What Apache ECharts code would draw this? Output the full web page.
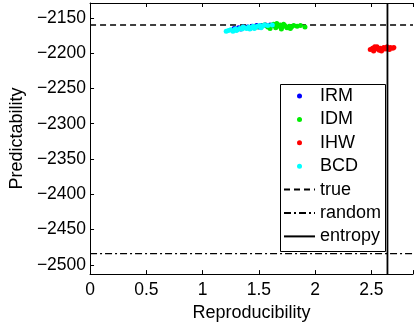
<!DOCTYPE html>
<html>
<head>
<meta charset="utf-8">
<script src="https://cdn.jsdelivr.net/npm/echarts@6/dist/echarts.min.js"></script>
<style>
html,body{margin:0;padding:0;background:#fff;}
#c{width:416px;height:327px;}
</style>
</head>
<body>
<div id="c"></div>
<script>
const seriesNames = ['IRM', 'IDM', 'IHW', 'BCD'];
const irm = [[1.28,-2165],[1.32,-2164],[1.36,-2163],[1.40,-2163],[1.44,-2162],[1.48,-2161],[1.52,-2161],[1.56,-2160],[1.60,-2160],[1.34,-2166],[1.42,-2165],[1.50,-2163],[1.58,-2162],[1.63,-2161]];
const idm = [[1.48,-2163],[1.52,-2162],[1.55,-2160],[1.58,-2163],[1.61,-2161],[1.63,-2159],[1.65,-2164],[1.67,-2162],[1.69,-2160],[1.71,-2163],[1.73,-2161],[1.75,-2164],[1.77,-2162],[1.79,-2163],[1.81,-2161],[1.84,-2162],[1.87,-2161],[1.91,-2163],[1.66,-2158],[1.72,-2159],[1.60,-2165],[1.70,-2166],[1.78,-2165]];
const ihw = [[2.49,-2195],[2.51,-2193],[2.52,-2197],[2.54,-2194],[2.55,-2191],[2.57,-2196],[2.58,-2193],[2.60,-2195],[2.61,-2192],[2.63,-2194],[2.64,-2191],[2.66,-2195],[2.67,-2192],[2.69,-2193],[2.70,-2192],[2.53,-2191],[2.59,-2197]];
const bcd = [[1.21,-2169],[1.23,-2168],[1.25,-2167],[1.27,-2169],[1.29,-2166],[1.31,-2167],[1.33,-2165],[1.35,-2166],[1.37,-2164],[1.39,-2165],[1.41,-2163],[1.43,-2164],[1.45,-2162],[1.47,-2163],[1.49,-2162],[1.51,-2161],[1.53,-2162],[1.55,-2160],[1.58,-2161],[1.62,-2160],[1.30,-2168],[1.36,-2163],[1.42,-2166],[1.46,-2165],[1.52,-2164]];
const trueValue = -2160;
const randomValue = -2484;
const entropyValue = 2.643;
const xRange = [0, 2.87];
const yRange = [-2513, -2129];
const xTickStep = 0.5;
const yTickStep = 50;
const seriesColors = ['#0000ff', '#00ee00', '#ff0000', '#00ffff'];

const font = 'Liberation Sans, Arial, Helvetica, sans-serif';
const chart = echarts.init(document.getElementById('c'), null, {renderer: 'canvas'});

const scatterData = [irm, idm, ihw, bcd];
const series = seriesNames.map((n, i) => ({
  name: n, type: 'scatter', data: scatterData[i], symbol: 'circle', symbolSize: 5,
  itemStyle: {color: seriesColors[i], opacity: 1}, z: 3
}));
series.push({
  name: 'true', type: 'line', data: [[xRange[0], trueValue], [xRange[1], trueValue]],
  symbol: 'none', itemStyle: {color: '#000'}, lineStyle: {color: '#000', width: 1.5, type: [6, 4]}, z: 2
});
series.push({
  name: 'random', type: 'line', data: [[xRange[0], randomValue], [xRange[1], randomValue]],
  symbol: 'none', itemStyle: {color: '#000'}, lineStyle: {color: '#000', width: 1.2, type: [7, 3, 2, 3]}, z: 2
});
series.push({
  name: 'entropy', type: 'line', data: [[entropyValue, yRange[0]], [entropyValue, yRange[1]]],
  symbol: 'none', itemStyle: {color: '#000'}, lineStyle: {color: '#000', width: 1.8, type: 'solid'}, z: 4
});

const legendData = seriesNames.map(n => ({name: n, icon: 'circle'}))
  .concat(['true', 'random', 'entropy'].map(n => ({
    name: n,
    itemStyle: {color: 'rgba(0,0,0,0)', borderWidth: 0, opacity: 0}
  })));

const option = {
  animation: false,
  backgroundColor: '#fff',
  grid: {left: 85, top: 3, right: 0, bottom: 49, containLabel: false},
  graphic: [{
    type: 'rect', left: 278, top: 82, z: 10, silent: true,
    shape: {x: 0, y: 0, width: 105, height: 167},
    style: {fill: 'none', stroke: '#000', lineWidth: 1}
  }],
  legend: {
    orient: 'vertical', left: 278, top: 82,
    data: legendData,
    itemWidth: 31, itemHeight: 5, itemGap: 5.4,
    padding: [5, 3, 4, 5],
    borderWidth: 0,
    textStyle: {fontFamily: font, fontSize: 18, color: '#000', lineHeight: 18},
    selectedMode: false
  },
  xAxis: [{
    type: 'value', min: xRange[0], max: xRange[1], interval: xTickStep,
    name: 'Reproducibility', nameLocation: 'middle', nameGap: 26,
    nameTextStyle: {fontFamily: font, fontSize: 18, color: '#000'},
    axisLine: {show: true, lineStyle: {color: '#000', width: 1}},
    axisTick: {show: true, inside: true, length: 4, lineStyle: {color: '#000'}},
    axisLabel: {fontFamily: font, fontSize: 17.5, color: '#000', margin: 7,
      formatter: v => (Math.abs(v / xTickStep - Math.round(v / xTickStep)) < 1e-6) ? String(v) : ''},
    splitLine: {show: false}
  }, {
    type: 'value', position: 'top', min: xRange[0], max: xRange[1], interval: xTickStep,
    axisLine: {show: true, lineStyle: {color: '#000', width: 1}},
    axisTick: {show: true, inside: true, length: 4, lineStyle: {color: '#000'}},
    axisLabel: {show: false}, splitLine: {show: false}
  }],
  yAxis: [{
    type: 'value', min: yRange[0], max: yRange[1], splitNumber: 8,
    name: 'Predictability', nameLocation: 'middle', nameGap: 60,
    nameTextStyle: {fontFamily: font, fontSize: 18, color: '#000'},
    axisLine: {show: true, lineStyle: {color: '#000', width: 1}},
    axisTick: {show: true, inside: true, length: 4, lineStyle: {color: '#000'}},
    axisLabel: {fontFamily: font, fontSize: 17.5, color: '#000', margin: 4,
      showMinLabel: false, showMaxLabel: false,
      formatter: v => (v % yTickStep === 0) ? String(v).replace('-', '\u2212') : ''},
    splitLine: {show: false}
  }],
  series: series
};
chart.setOption(option);
</script>
</body>
</html>
